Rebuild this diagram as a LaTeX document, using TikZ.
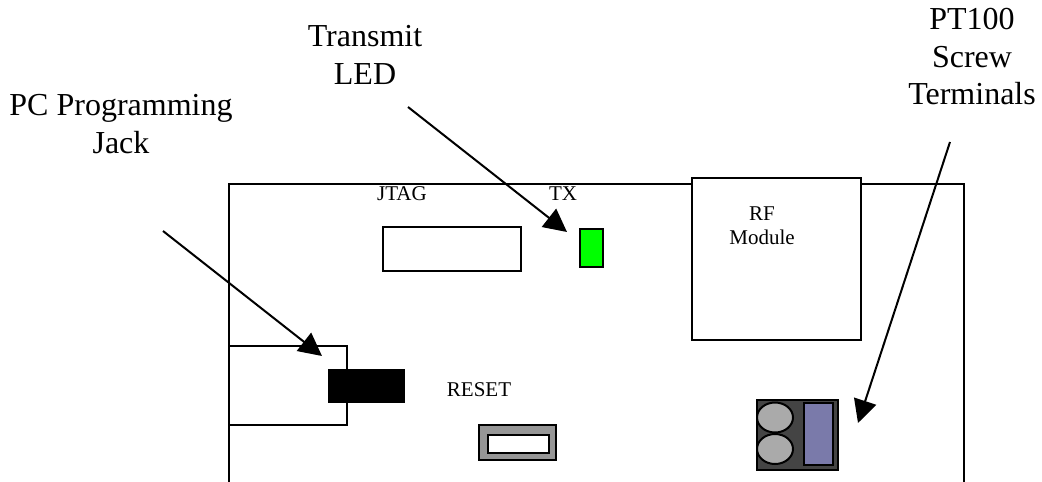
\documentclass[tikz,border=0pt]{standalone}
\usepackage{fontspec}
\setmainfont{Liberation Serif}
\usetikzlibrary{arrows.meta}
\definecolor{termdark}{RGB}{68,68,68}
\definecolor{termgray}{RGB}{170,170,170}
\definecolor{termblue}{RGB}{122,122,170}
\definecolor{resetgray}{RGB}{150,150,150}
\tikzset{
  box/.style={draw=black,line width=2pt},
  big/.style={font=\fontsize{32}{37.5}\selectfont,align=center,inner sep=0pt},
  small/.style={font=\fontsize{21}{24}\selectfont,align=center,inner sep=0pt},
  pointer/.style={draw=black,line width=2pt,-{Triangle[length=23pt,width=23pt]}}
}
\begin{document}
\begin{tikzpicture}[x=1pt,y=-1pt]
\useasboundingbox (0,0) rectangle (1042,482);
\fill[white] (0,0) rectangle (1042,482);
% board
\draw[box] (228.5,482) -- (228.5,184) -- (964,184) -- (964,482);
\draw[box] (228.5,345.5) -- (347,345.5) -- (347,425) -- (228.5,425);
\fill[black] (328,368.5) rectangle (405,403);
\draw[box,fill=white] (383,226.5) rectangle (521,271);
\draw[box,fill=green] (580,229) rectangle (603,267);
\draw[box,fill=white] (692,178) rectangle (861,340);
\draw[box,fill=resetgray] (479,425) rectangle (556,460);
\draw[box,fill=white] (488,435) rectangle (549,453);
% PT100 terminals
\draw[box,fill=termdark] (757,399.5) rectangle (838,469.5);
\draw[box,fill=termgray] (775,417.5) ellipse (18 and 15);
\draw[box,fill=termgray] (775,449) ellipse (18 and 15);
\draw[box,fill=termblue] (804,403) rectangle (833,465);
% labels
\node[big] (pc) at (121,124) {PC Programming\\Jack};
\node[big] (tl) at (365,55) {Transmit\\LED};
\node[big] (pt) at (972,57) {PT100\\Screw\\Terminals};
\node[small] (jt) at (402,194) {JTAG};
\node[small] (tx) at (563,194) {TX};
\node[small] (rf) at (762,225.5) {RF\\Module};
\node[small] (rs) at (479,390) {RESET};
% arrows
\coordinate (a1) at (163,231); \coordinate (b1) at (322,356);
\coordinate (a2) at (408,107); \coordinate (b2) at (567,232);
\coordinate (a3) at (950,142); \coordinate (b3) at (858,423);
\draw[pointer] (a1) -- (b1);
\draw[pointer] (a2) -- (b2);
\draw[pointer] (a3) -- (b3);
\end{tikzpicture}
\end{document}
